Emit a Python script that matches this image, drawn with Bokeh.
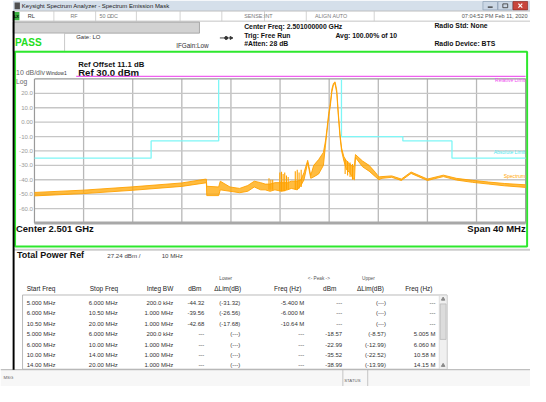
from bokeh.plotting import figure
from bokeh.models import Range1d
from bokeh.core.properties import value
from bokeh.embed import file_html
from bokeh.resources import INLINE

# ---------------- data ----------------
center_label = "Center  2.501 GHz"
span_label = "Span 40 MHz"
freq_start, freq_stop = -20.0, 20.0          # MHz offset from centre
ref_level, bottom_level = 30.0, -70.0        # dBm
x_grid = [-16, -12, -8, -4, 0, 4, 8, 12, 16]
y_ticks = [20, 10, 0, -10, -20, -30, -40, -50, -60]
y_tick_labels = ["20.0", "10.0", "0.00", "-10.0", "-20.0", "-30.0", "-40.0", "-50.0", "-60.0"]

spec_freq = [-20, -16, -12, -8, -6.1, -6.0, -5.97, -5.0, -4.87, -4.08, -3.29, -2.63, -2.1,
             -1.58, -1.21, -0.81, -0.42, 0.13, 0.6, 0.92, 1.4, 1.7, 1.95, 2.25, 2.5, 2.74,
             3.14, 3.53, 3.7, 3.83, 3.96, 4.09, 4.22, 4.35, 4.48, 4.62, 4.74, 4.88, 5.01,
             5.2, 5.41, 5.67, 5.93, 6.06, 6.14, 6.72, 7.25, 7.78, 8.04, 8.3, 9.09, 9.88,
             10.67, 12.0, 13.3, 14.36, 15.68, 17.0, 18.3, 20.0]
spec_low = [-51.2, -49.6, -47.3, -44.6, -42.2, -42.2, -51, -51, -47, -48, -49, -48, -45,
            -47, -47, -48, -47, -48, -47, -46, -47, -44, -40, -28, -39, -38,
            -36, -30, -16, -6, 4, 11, 21, 26, 26.8, 20, 5, -10, -20,
            -27, -33, -35, -39, -40, -24.5, -31, -34, -38, -40, -39, -38.3, -40.5,
            -35.6, -40.5, -37.8, -40.2, -41.8, -43, -44.2, -45.3]
spec_high = [-48.8, -47.2, -44.9, -42.2, -39.6, -39.6, -44.5, -45, -41, -45, -46, -44, -41,
             -42, -43, -43, -42, -42, -42, -41, -41, -40, -35, -26.5, -37, -30,
             -26, -21, -13, -4, 6, 13, 23, 27, 28, 22, 7, -8, -18,
             -24, -27, -29, -31, -30, -22.5, -27, -30, -35, -38, -37.8, -37.3, -39.5,
             -34.6, -39.5, -36.8, -39, -40.4, -41.6, -42.6, -43.5]

# individual noise spikes near the carrier
spike_freq = [-0.9, -0.75, -0.6, -0.02, 0.12, 0.25, 0.38, 0.52, 0.66, 1.24, 1.4, 1.55, 1.72,
              5.3, 5.5, 5.7, 5.9]
spike_low = [-47, -47, -47, -48, -48, -48, -48, -47, -47, -47, -47, -46, -45,
             -36, -37, -38, -40]
spike_high = [-39, -40, -40, -35, -34.5, -36, -35, -37, -38, -34, -33, -35, -33,
              -26, -27, -28, -29]

lower_limit_freq = [-20, -10.5, -10.5, -5, -5]
lower_limit_dbm = [-25, -25, -13, -13, 30]
upper_limit_freq = [5, 5, 10, 10, 14, 14, 20]
upper_limit_dbm = [30, -10, -10, -13, -13, -25, -25]

start_freq = ["5.000 MHz", "6.000 MHz", "10.50 MHz", "5.000 MHz", "6.000 MHz", "10.00 MHz", "14.00 MHz"]
stop_freq = ["6.000 MHz", "10.50 MHz", "20.00 MHz", "6.000 MHz", "10.00 MHz", "14.00 MHz", "20.00 MHz"]
integ_bw = ["200.0 kHz", "1.000 MHz", "1.000 MHz", "200.0 kHz", "1.000 MHz", "1.000 MHz", "1.000 MHz"]
lower_dbm = ["-44.32", "-39.56", "-42.68", "---", "---", "---", "---"]
lower_dlim = ["(-31.32)", "(-26.56)", "(-17.68)", "(---)", "(---)", "(---)", "(---)"]
lower_freq = ["-5.400 M", "-6.000 M", "-10.64 M", "---", "---", "---", "---"]
upper_dbm = ["---", "---", "---", "-18.57", "-22.99", "-35.52", "-38.99"]
upper_dlim = ["(---)", "(---)", "(---)", "(-8.57)", "(-12.99)", "(-22.52)", "(-13.99)"]
upper_freq = ["---", "---", "---", "5.005 M", "6.060 M", "10.58 M", "14.15 M"]

# ---------------- figure ----------------
W, H = 530, 386
FS = 0.965
FONT = "Liberation Sans"
p = figure(width=W, height=H, x_range=Range1d(0, 546), y_range=Range1d(402, 0),
           output_backend="svg", toolbar_location=None, min_border=0,
           x_axis_location=None, y_axis_location=None,
           background_fill_color="white", border_fill_color="white",
           outline_line_color=None)
p.grid.visible = False


def T(xs, ys, texts, size, color="#000000", align="left", bold=False, tgt=None, **kw):
    tgt = tgt or p
    tgt.text(x=xs, y=ys, text=texts, text_font=value(FONT),
             text_font_size=value(f"{size * FS:.2f}px"), text_color=color,
             text_align=align, text_baseline="middle",
             text_font_style="bold" if bold else "normal", **kw)


# title bar
p.quad(left=13, right=546, top=0, bottom=11, fill_color="#d5dfea", line_color=None)
p.quad(left=14.5, right=20, top=2, bottom=9, fill_color="#505050", line_color=None)
T([22], [5.8], ["Keysight Spectrum Analyzer - Spectrum Emission Mask"], 6.2, "#1a1a1a")
p.quad(left=[497, 512.5], right=[512, 527.5], top=1, bottom=9.8,
       fill_color="#cbd7e5", line_color="#8c9db3", line_width=0.7)
p.quad(left=528, right=543, top=1, bottom=9.8, fill_color="#c8453c", line_color="#8a2a24", line_width=0.7)
p.segment(x0=502, y0=7, x1=507, y1=7, line_color="#333333", line_width=1.2)
p.quad(left=517.5, right=522.5, top=3.5, bottom=7.5, fill_color=None, line_color="#333333", line_width=0.8)
p.segment(x0=[533.5, 533.5], y0=[3.3, 7.5], x1=[537.5, 537.5], y1=[7.5, 3.3], line_color="white", line_width=1.2)

# status row
p.quad(left=13, right=546, top=11, bottom=21.5, fill_color="white", line_color="#b4b4b4", line_width=0.8)
p.segment(x0=[55, 98, 140, 185, 228, 272, 315, 385], y0=11, x1=[55, 98, 140, 185, 228, 272, 315, 385],
          y1=21.5, line_color="#c8c8c8", line_width=0.8)
p.quad(left=13, right=19.5, top=12, bottom=20.5, fill_color="#3cb043", line_color=None)
T([13.8], [16.3], ["LX"], 4.2, "#000000", bold=True)
T([28], [16.3], ["RL"], 5.8, "#333333")
T([72, 102, 113, 251, 324], [16.3] * 5, ["RF", "50 \u03a9", "DC", "SENSE:INT", "ALIGN AUTO"], 5.6, "#7a7a7a")
T([543], [16.3], ["07:04:52 PM Feb 11, 2020"], 5.8, "#555555", align="right")

# second row
p.quad(left=13, right=205, top=22.5, bottom=34, fill_color="#d2d2d2", line_color="#9c9c9c", line_width=0.8)
p.quad(left=13, right=66, top=34, bottom=53, fill_color="white", line_color="#bcbcbc", line_width=0.8)
T([15], [43.5], ["PASS"], 10.4, "#22dd22", bold=True)
T([78], [38], ["Gate: LO"], 6.2, "#333333")
T([181], [46.5], ["IFGain:Low"], 6.6, "#333333")
p.segment(x0=226, y0=39, x1=239, y1=39, line_color="#333333", line_width=0.9)
p.scatter(x=[232.5], y=[39], size=3, marker="circle", color="#333333")
p.scatter(x=[237.5], y=[39], size=3, marker="triangle", angle=-1.5708, color="#333333")
T([251, 251, 251, 345, 447, 447], [27.5, 36.5, 45.3, 36.5, 26.5, 44.5],
  ["Center Freq: 2.501000000 GHz", "Trig: Free Run", "#Atten: 28 dB",
   "Avg: 100.00% of 10", "Radio Std: None", "Radio Device: BTS"], 7.1, "#111111", bold=True)

# green spectrum window
p.quad(left=15, right=542.5, top=53.3, bottom=256.3, fill_color="white", line_color="#2ee82e", line_width=2)
T([80], [66.5], ["Ref Offset 11.1 dB"], 8.0, "#111111", bold=True)
T([80], [75], ["Ref 30.0 dBm"], 10.0, "#111111", bold=True)
T([16], [75.5], ["10 dB/div"], 7.2, "#666666")
T([47], [75.5], ["Window1"], 5.2, "#333333")
T([16], [84.8], ["Log"], 7.0, "#666666")
p.segment(x0=78, y0=79, x1=541, y1=79, line_color="#f060f0", line_width=1.2)

sub = p.subplot(x_source=Range1d(freq_start, freq_stop), y_source=Range1d(bottom_level, ref_level),
                x_target=Range1d(35, 541), y_target=Range1d(231.7, 81.7))
sub.segment(x0=x_grid, y0=bottom_level, x1=x_grid, y1=ref_level, line_color="#b8b8b8", line_width=1.3)
sub.segment(x0=freq_start, y0=y_ticks, x1=freq_stop, y1=y_ticks, line_color="#c6c6c6", line_width=1.3)
sub.line(x=[freq_start, freq_stop, freq_stop, freq_start, freq_start],
         y=[ref_level, ref_level, bottom_level, bottom_level, ref_level], line_color="#9a9a9a", line_width=1.2)
sub.segment(x0=freq_start, y0=bottom_level, x1=freq_stop, y1=bottom_level, line_color="#a8a8a8", line_width=3)
T([freq_start] * len(y_ticks), y_ticks, y_tick_labels, 6.3, "#9a9a9a", align="right", tgt=sub, x_offset=-1.5)

sub.line(x=lower_limit_freq, y=lower_limit_dbm, line_color="#7ef6f6", line_width=1.3)
sub.line(x=upper_limit_freq, y=upper_limit_dbm, line_color="#7ef6f6", line_width=1.3)

sub.varea(x=spec_freq, y1=spec_low, y2=spec_high, fill_color="#ffa500", fill_alpha=0.75)
sub.line(x=spec_freq, y=spec_high, line_color="#ffa200", line_width=0.9)
sub.line(x=spec_freq, y=spec_low, line_color="#ffa200", line_width=0.9)
sub.segment(x0=spike_freq, y0=spike_low, x1=spike_freq, y1=spike_high, line_color="#ffa200", line_width=1.1)

T([540.5], [83.3], ["Relative Limit"], 5.2, "#f050f0", align="right")
T([540.5], [158.3], ["Absolute Limit"], 5.2, "#50e8f0", align="right")
T([540.5], [182.7], ["Spectrum"], 5.2, "#ffa500", align="right")

T([16], [237], [center_label], 9.8, "#111111", bold=True)
T([541], [237], [span_label], 9.8, "#111111", align="right", bold=True)

# results panel
p.quad(left=13, right=546, top=258.5, bottom=260.5, fill_color="#cccccc", line_color=None)
T([17], [265.5], ["Total Power Ref"], 9.3, "#111111", bold=True)
T([110, 166], [265.5, 265.5], ["27.24 dBm /", "10 MHz"], 6.4, "#444444")

T([232, 328, 379], [290, 290, 290], ["Lower", "<- Peak ->", "Upper"], 4.9, "#555555", align="center")
T([27, 92], [300, 300], ["Start Freq", "Stop Freq"], 6.7, "#222222")
T([178, 207, 248, 310, 346, 395, 445], [300] * 7,
  ["Integ BW", "dBm", "\u0394Lim(dB)", "Freq (Hz)", "dBm", "\u0394Lim(dB)", "Freq (Hz)"], 6.7, "#222222", align="right")

p.quad(left=22.7, right=460, top=306.7, bottom=384, fill_color="white", line_color="#a8a8a8", line_width=0.8)
row_y = [315 + 10.85 * i for i in range(len(start_freq))]
T([27] * 7, row_y, start_freq, 6.2, "#333333")
T([91] * 7, row_y, stop_freq, 6.2, "#333333")
for col, xr in [(integ_bw, 178), (lower_dbm, 210), (lower_dlim, 247), (lower_freq, 313),
                (upper_dbm, 352), (upper_dlim, 397), (upper_freq, 448)]:
    T([xr] * 7, row_y, col, 6.2, "#333333", align="right")

p.quad(left=452, right=460, top=307, bottom=384, fill_color="#f0f0f0", line_color="#d4d4d4", line_width=0.7)
p.quad(left=453, right=459, top=316, bottom=353, fill_color="#dcdcdc", line_color="#b4b4b4", line_width=0.7)
p.scatter(x=[456, 456], y=[311, 380], size=3.5, marker="triangle", color="#8a8a8a")

# bottom status bar
p.quad(left=0, right=546, top=384.5, bottom=402, fill_color="#f7f7f7", line_color=None)
p.segment(x0=0, y0=384.5, x1=546, y1=384.5, line_color="#b0b0b0", line_width=1)
p.segment(x0=[352.7, 378.3], y0=384.5, x1=[352.7, 378.3], y1=402, line_color="#b8b8b8", line_width=0.8)
T([3], [393], ["MSG"], 4.5, "#666666")
T([354], [396], ["STATUS"], 4.5, "#666666")

# left window border
p.quad(left=12.5, right=14.5, top=11, bottom=384.5, fill_color="#000000", line_color=None)

open("out.html", "w").write(file_html(p, INLINE))
